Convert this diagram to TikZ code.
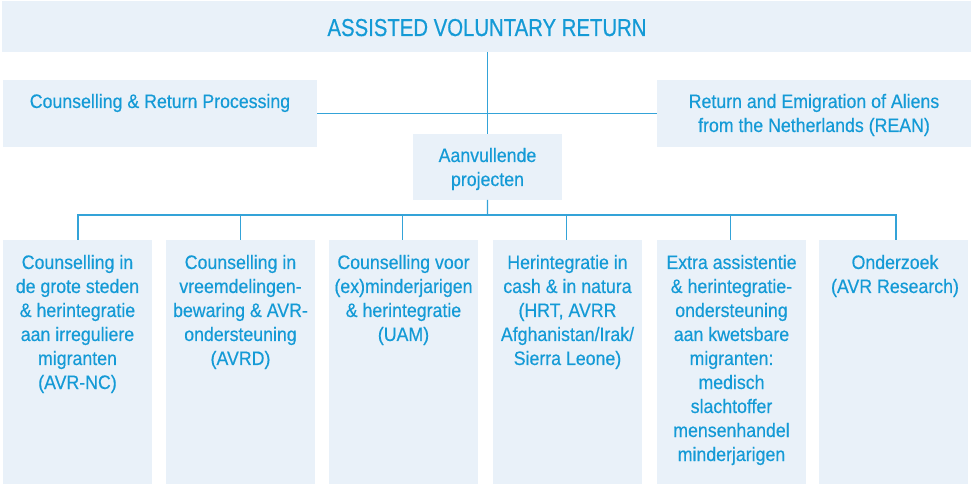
\documentclass[tikz,border=0pt]{standalone}
\usepackage{fontspec}
\setmainfont{Liberation Sans}[FakeStretch=0.91,FakeBold=0.4]
\newfontfamily\titlefont{Liberation Sans}[FakeStretch=0.83,FakeBold=0.5]
\definecolor{avrblue}{RGB}{20,154,214}
\definecolor{avrline}{RGB}{52,163,216}
\definecolor{avrfill}{RGB}{233,241,249}
\newcommand\ctext[1]{\parbox[t]{360bp}{\centering #1}}
\begin{document}
\begin{tikzpicture}[x=1bp,y=-1bp,
  box/.style={fill=avrfill,draw=none,inner sep=0pt,outer sep=0pt,anchor=north west},
  txt/.style={anchor=base,inner sep=0pt,outer sep=0pt,text=avrblue,font=\fontsize{19.5bp}{24bp}\selectfont},
  conn/.style={draw=avrline,line width=1.4bp}]
\useasboundingbox (0,0) rectangle (971,484);

% boxes
\node[box,minimum width=969bp,minimum height=51bp] (top) at (2,1) {};
\node[box,minimum width=314bp,minimum height=67bp] (crp) at (3,80) {};
\node[box,minimum width=314bp,minimum height=67bp] (rean) at (657,80) {};
\node[box,minimum width=149bp,minimum height=66bp] (aan) at (413,134) {};
\node[box,minimum width=149bp,minimum height=244bp] (b1) at (3,240) {};
\node[box,minimum width=149bp,minimum height=244bp] (b2) at (166,240) {};
\node[box,minimum width=149bp,minimum height=244bp] (b3) at (329,240) {};
\node[box,minimum width=149bp,minimum height=244bp] (b4) at (493,240) {};
\node[box,minimum width=149bp,minimum height=244bp] (b5) at (657,240) {};
\node[box,minimum width=149bp,minimum height=244bp] (b6) at (819,240) {};

% texts
\node[txt,font=\titlefont\fontsize{24.5bp}{28bp}\selectfont] (ttl) at (487,36) {ASSISTED VOLUNTARY RETURN};
\node[txt] (tcrp) at (160,108) {\ctext{Counselling \& Return Processing}};
\node[txt] (trean) at (814,108) {\ctext{Return and Emigration of Aliens\\from the Netherlands (REAN)}};
\node[txt] (taan) at (487.5,162) {\ctext{Aanvullende\\projecten}};
\node[txt] (t1) at (77.5,269) {\ctext{Counselling in\\de grote steden\\\& herintegratie\\aan irreguliere\\migranten\\(AVR-NC)}};
\node[txt] (t2) at (240.5,269) {\ctext{Counselling in\\vreemdelingen-\\bewaring \& AVR-\\ondersteuning\\(AVRD)}};
\node[txt] (t3) at (403.5,269) {\ctext{Counselling voor\\(ex)minderjarigen\\\& herintegratie\\(UAM)}};
\node[txt] (t4) at (567.5,269) {\ctext{Herintegratie in\\cash \& in natura\\(HRT, AVRR\\Afghanistan/Irak/\\Sierra Leone)}};
\node[txt] (t5) at (731.5,269) {\ctext{Extra assistentie\\\& herintegratie-\\ondersteuning\\aan kwetsbare\\migranten:\\medisch\\slachtoffer\\mensenhandel\\minderjarigen}};
\node[txt] (t6) at (895,269) {\ctext{Onderzoek\\(AVR Research)}};

% connectors
\coordinate (bus) at (487.5,215);
\draw[conn] (top.south -| aan.north) -- (aan.north);
\draw[conn] (aan.south) -- (bus);
\draw[conn] (crp.east) -- (rean.west);
\draw[conn] (b1.north -| 78,0) |- (bus);
\draw[conn] (b6.north -| 896,0) |- (bus);
\draw[conn] (b2.north -| 240.7,0) -- (240.7,215);
\draw[conn] (b3.north -| 402.3,0) -- (402.3,215);
\draw[conn] (b4.north -| 566.7,0) -- (566.7,215);
\draw[conn] (b5.north -| 730.3,0) -- (730.3,215);
\end{tikzpicture}
\end{document}
